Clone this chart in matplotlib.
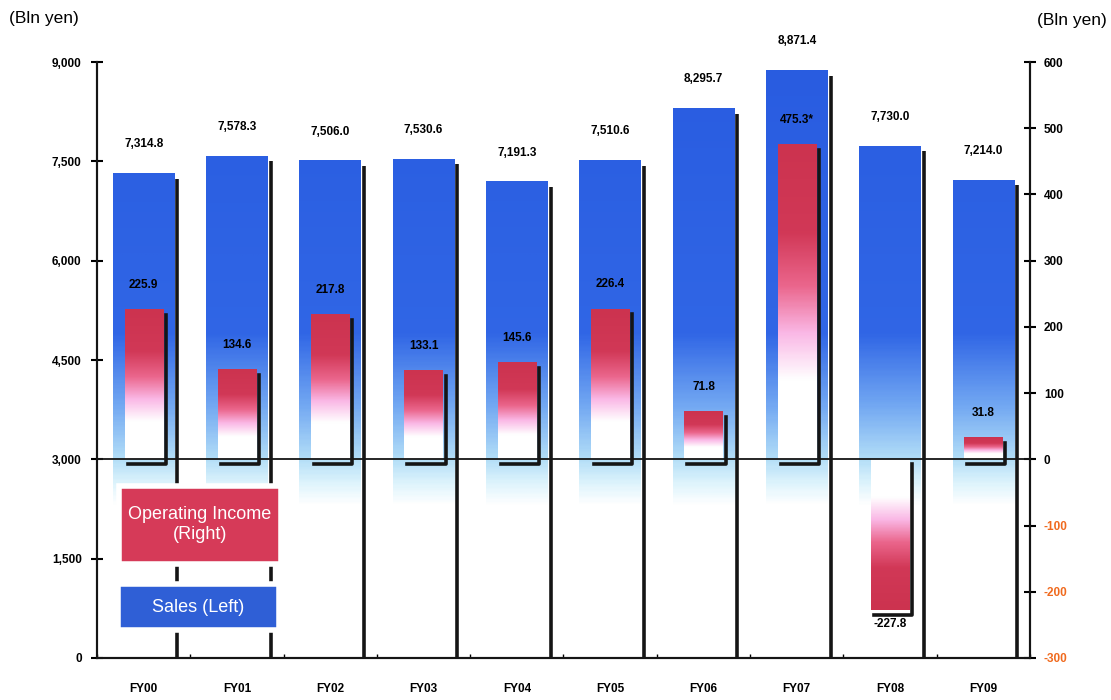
import matplotlib
matplotlib.use("Agg")
import matplotlib.pyplot as plt
import numpy as np
from matplotlib.colors import LinearSegmentedColormap, Normalize
from matplotlib.patches import Rectangle
from matplotlib.transforms import offset_copy

FONT = ["Liberation Sans Narrow", "Liberation Sans", "DejaVu Sans"]
plt.rcParams["font.family"] = FONT

years = ["FY00", "FY01", "FY02", "FY03", "FY04", "FY05", "FY06", "FY07", "FY08", "FY09"]
sales = [7314.8, 7578.3, 7506.0, 7530.6, 7191.3, 7510.6, 8295.7, 8871.4, 7730.0, 7214.0]
income = [225.9, 134.6, 217.8, 133.1, 145.6, 226.4, 71.8, 475.3, -227.8, 31.8]
income_labels = ["225.9", "134.6", "217.8", "133.1", "145.6", "226.4", "71.8", "475.3*", "-227.8", "31.8"]

left_ticks = [0, 1500, 3000, 4500, 6000, 7500, 9000]
right_ticks = [-300, -200, -100, 0, 100, 200, 300, 400, 500, 600]

blue_cmap = LinearSegmentedColormap.from_list("blue_fade", [
    (0.0, (1, 1, 1)),
    (2300 / 9000, (1, 1, 1)),
    (2600 / 9000, (0.88, 0.96, 0.99)),
    (3000 / 9000, (0.70, 0.87, 0.97)),
    (3800 / 9000, (0.45, 0.66, 0.95)),
    (4900 / 9000, (0.19, 0.40, 0.90)),
    (1.0, (0.16, 0.36, 0.88)),
])
red_cmap = LinearSegmentedColormap.from_list("red_fade", [
    (0.0, (1, 1, 1)),
    (0.25, (1, 1, 1)),
    (0.40, (0.98, 0.72, 0.90)),
    (0.55, (0.92, 0.40, 0.55)),
    (0.72, (0.82, 0.22, 0.34)),
    (1.0, (0.80, 0.20, 0.31)),
])

fig = plt.figure(figsize=(11.11, 7.0), dpi=100)
ax = fig.add_axes([0.0873, 0.06, 0.8398, 0.8514])
ax2 = ax.twinx()

x = np.arange(len(years))
bw = 0.66
rw = 0.41
shadow_l = offset_copy(ax.transData, fig=fig, x=3, y=-5, units="dots")
shadow_r = offset_copy(ax2.transData, fig=fig, x=3, y=-5, units="dots")

# sales bars: gradient column fading out near the bottom
for xi, s in zip(x, sales):
    ys = np.linspace(0, s, 300)[:, None]
    ax.imshow(ys, extent=(xi - bw / 2, xi + bw / 2, 0, s), origin="lower",
              cmap=blue_cmap, norm=Normalize(0, 9000), aspect="auto", zorder=2)
    ax.plot([xi + bw / 2, xi + bw / 2], [s, 0], color="#151515", lw=2.6,
            transform=shadow_l, zorder=1, solid_capstyle="butt")
    ax.annotate(f"{s:,.1f}", (xi, s), xytext=(0, 21), textcoords="offset points",
                ha="center", va="center", fontsize=8.5, fontweight="bold")

# operating income bars
for xi, v, lab in zip(x, income, income_labels):
    ys = np.linspace(min(0, v), max(0, v), 300)
    frac = (ys / v)[:, None]
    ax2.imshow(frac, extent=(xi - rw / 2, xi + rw / 2, min(0, v), max(0, v)),
               origin="lower", cmap=red_cmap, norm=Normalize(0, 1),
               aspect="auto", zorder=3)
    ax2.plot([xi + rw / 2, xi + rw / 2, xi - rw / 2], [v, 0, 0] if v > 0 else [0, v, v],
             color="#151515", lw=2.6, transform=shadow_r, zorder=2)
    off = 18 if v > 0 else -10
    ax2.annotate(lab, (xi, v), xytext=(0, off), textcoords="offset points",
                 ha="center", va="center", fontsize=8.5, fontweight="bold")

ax2.axhline(0, color="#151515", lw=1.3, zorder=4)

ax.set_xlim(-0.5, len(years) - 0.5)
ax.set_ylim(0, 9000)
ax2.set_ylim(-300, 600)
ax.set_yticks(left_ticks)
ax.set_yticklabels([f"{t:,}" for t in left_ticks])
ax2.set_yticks(right_ticks)
ax2.set_yticklabels([f"{t}" for t in right_ticks])
for t, lbl in zip(right_ticks, ax2.get_yticklabels()):
    lbl.set_color("#f06a1e" if t < 0 else "black")

ax.set_xticks(x)
ax.set_xticklabels(years)
ax.set_xticks(np.arange(len(years) + 1) - 0.5, minor=True)
ax.tick_params(axis="x", which="major", length=0, pad=18)
ax.tick_params(axis="x", which="minor", length=3, direction="in", width=1)
ax.tick_params(axis="y", length=8, direction="inout", width=1.5, pad=7)
ax2.tick_params(axis="y", length=8, direction="inout", width=1.5, pad=6)
for a in (ax, ax2):
    for lbl in a.get_xticklabels() + a.get_yticklabels():
        lbl.set_fontweight("bold")
        lbl.set_fontsize(8.5)
    a.spines["top"].set_visible(False)
for a in (ax, ax2):
    for side in ("left", "right", "bottom"):
        a.spines[side].set_linewidth(1.5)
        a.spines[side].set_color("#151515")

# legend boxes
ax2.add_patch(Rectangle((0.024, 0.158), 0.173, 0.131, transform=ax.transAxes,
                        facecolor="#d63a58", edgecolor="white", lw=4, zorder=6))
ax2.text(0.1105, 0.2235, "Operating Income\n(Right)", transform=ax.transAxes,
         ha="center", va="center", color="white", fontsize=13, zorder=7,
         linespacing=1.25)
ax2.add_patch(Rectangle((0.022, 0.047), 0.173, 0.077, transform=ax.transAxes,
                        facecolor="#2f5fd6", edgecolor="white", lw=4, zorder=6))
ax2.text(0.1085, 0.0855, "Sales (Left)", transform=ax.transAxes,
         ha="center", va="center", color="white", fontsize=13, zorder=7)

fig.text(0.008, 0.973, "(Bln yen)", ha="left", va="center", fontsize=12.5)
fig.text(0.996, 0.97, "(Bln yen)", ha="right", va="center", fontsize=12.5)

fig.savefig("out.png", dpi=100)
